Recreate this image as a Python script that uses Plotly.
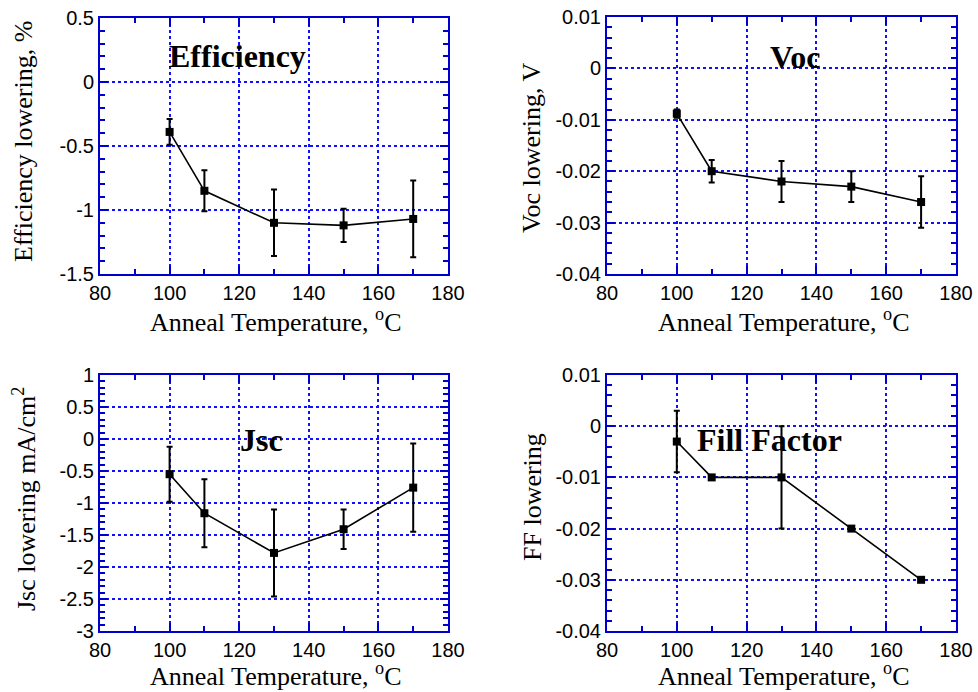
import plotly.graph_objects as go

temps = [100, 110, 130, 150, 170]

eff = [-0.39, -0.85, -1.10, -1.12, -1.07]
eff_err = [0.10, 0.16, 0.26, 0.13, 0.30]

voc = [-0.0088, -0.020, -0.022, -0.023, -0.026]
voc_err = [0.0008, 0.0022, 0.004, 0.003, 0.005]

jsc = [-0.55, -1.16, -1.78, -1.41, -0.76]
jsc_err = [0.43, 0.53, 0.68, 0.31, 0.69]

ff = [-0.003, -0.010, -0.010, -0.020, -0.030]
ff_err = [0.006, 0.0, 0.010, 0.0, 0.0]

x_ticks = [80, 100, 120, 140, 160, 180]
x_ticktext = ["80", "100", "120", "140", "160", "180"]

eff_ticks = [0.5, 0, -0.5, -1, -1.5]
eff_ticktext = ["0.5", "0", "-0.5", "-1", "-1.5"]
voc_ticks = [0.01, 0, -0.01, -0.02, -0.03, -0.04]
voc_ticktext = ["0.01", "0", "-0.01", "-0.02", "-0.03", "-0.04"]
jsc_ticks = [1, 0.5, 0, -0.5, -1, -1.5, -2, -2.5, -3]
jsc_ticktext = ["1", "0.5", "0", "-0.5", "-1", "-1.5", "-2", "-2.5", "-3"]
ff_ticks = voc_ticks
ff_ticktext = voc_ticktext

W, H = 978, 692
BLUE = "#0000CC"
GRID = "#1010FF"
SERIF = "Liberation Serif"
SANS = "Liberation Sans"

panels = [
    ("x", "y", eff, eff_err, [-1.5, 0.5], eff_ticks, eff_ticktext, 0.1,
     "Efficiency lowering, %", "Efficiency", (119.5, 0.2), (100, 448, 18, 274), (23, 142), 46),
    ("x2", "y2", voc, voc_err, [-0.04, 0.01], voc_ticks, voc_ticktext, 0.002,
     "Voc lowering, V", "Voc", (134, 0.0022), (607, 956, 17, 274), (532, 148), 46),
    ("x3", "y3", jsc, jsc_err, [-3, 1], jsc_ticks, jsc_ticktext, 0.1,
     "Jsc lowering mA/cm<sup>2</sup>", "Jsc", (126.5, -0.02), (100, 448, 375, 631), (24, 499), 43),
    ("x4", "y4", ff, ff_err, [-0.04, 0.01], ff_ticks, ff_ticktext, 0.002,
     "FF lowering", "Fill Factor", (126.7, -0.0027), (607, 956, 375, 631), (532, 497), 43),
]

fig = go.Figure()
annotations = []
layout = {}

for i, (xa, ya, yv, ye, yr, yt, ytt, ymin, ytitle, label, lpos, dom, ytpos, xtoff) in enumerate(panels):
    fig.add_trace(go.Scatter(
        x=temps, y=yv, xaxis=xa, yaxis=ya, mode="lines+markers",
        line=dict(color="black", width=1.6),
        marker=dict(symbol="square", size=8, color="black"),
        error_y=dict(type="data", array=ye, visible=True, color="black",
                     thickness=2, width=3),
        showlegend=False,
    ))
    l, r, t, b = dom
    xkey = "xaxis" if i == 0 else f"xaxis{i+1}"
    ykey = "yaxis" if i == 0 else f"yaxis{i+1}"
    common = dict(
        showline=True, linecolor=BLUE, linewidth=2, mirror="allticks",
        ticks="inside", ticklen=8, tickwidth=2, tickcolor=BLUE,
        showgrid=True, gridcolor=GRID, gridwidth=1.5, griddash="dot",
        zeroline=False, automargin=False,
        tickfont=dict(family=SANS, size=20, color="black"),
    )
    layout[xkey] = dict(
        common, domain=[l / W, r / W], range=[80, 180],
        tickvals=x_ticks, ticktext=x_ticktext, anchor=ya,
        minor=dict(dtick=10, tick0=80, ticks="inside", ticklen=5, tickwidth=2,
                   tickcolor=BLUE, showgrid=False),
    )
    layout[ykey] = dict(
        common, domain=[1 - b / H, 1 - t / H], range=yr,
        tickvals=yt, ticktext=ytt, anchor=xa,
        minor=dict(dtick=ymin, tick0=0, ticks="inside", ticklen=5, tickwidth=2,
                   tickcolor=BLUE, showgrid=False),
    )
    annotations.append(dict(
        x=lpos[0], y=lpos[1], xref=xa, yref=ya, text=f"<b>{label}</b>",
        showarrow=False, font=dict(family=SERIF, size=32, color="black"),
    ))
    annotations.append(dict(
        x=((l + r) / 2 + 2) / W, y=1 - ((b + xtoff) / H),
        xref="paper", yref="paper", text="Anneal Temperature, <sup>o</sup>C",
        showarrow=False, font=dict(family=SERIF, size=26, color="black"),
        xanchor="center", yanchor="middle",
    ))
    annotations.append(dict(
        x=ytpos[0] / W, y=1 - ytpos[1] / H, xref="paper", yref="paper",
        text=ytitle, textangle=-90, showarrow=False,
        font=dict(family=SERIF, size=26, color="black"),
        xanchor="center", yanchor="middle",
    ))

fig.update_layout(
    width=W, height=H, margin=dict(l=0, r=0, t=0, b=0),
    paper_bgcolor="white", plot_bgcolor="white",
    annotations=annotations, **layout,
)

fig.write_html("out.html")
